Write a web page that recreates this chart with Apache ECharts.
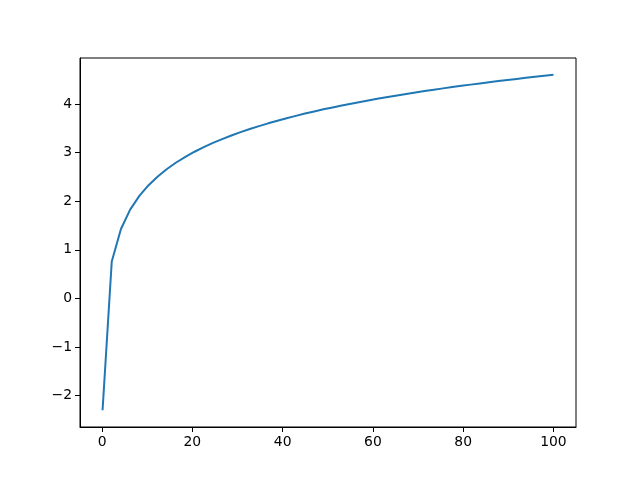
<!DOCTYPE html>
<html>
<head>
<meta charset="utf-8">
<script src="https://cdn.jsdelivr.net/npm/echarts@6/dist/echarts.min.js"></script>
<style>html,body{margin:0;padding:0;background:#fff}#c{width:640px;height:480px}</style>
</head>
<body>
<div id="c"></div>
<script>
var xValues = [0.1, 2.139, 4.178, 6.216, 8.255, 10.294, 12.333, 14.371, 16.41, 18.449,
  20.488, 22.527, 24.565, 26.604, 28.643, 30.682, 32.72, 34.759, 36.798, 38.837,
  40.876, 42.914, 44.953, 46.992, 49.031, 51.069, 53.108, 55.147, 57.186, 59.224,
  61.263, 63.302, 65.341, 67.38, 69.418, 71.457, 73.496, 75.535, 77.573, 79.612,
  81.651, 83.69, 85.729, 87.767, 89.806, 91.845, 93.884, 95.922, 97.961, 100.0];
var yValues = [-2.303, 0.76, 1.43, 1.827, 2.111, 2.332, 2.512, 2.665, 2.798, 2.915,
  3.02, 3.115, 3.201, 3.281, 3.355, 3.424, 3.488, 3.548, 3.605, 3.659,
  3.711, 3.759, 3.806, 3.85, 3.893, 3.933, 3.972, 4.01, 4.046, 4.081,
  4.115, 4.148, 4.18, 4.21, 4.24, 4.269, 4.297, 4.325, 4.351, 4.377,
  4.402, 4.427, 4.451, 4.475, 4.498, 4.52, 4.542, 4.564, 4.585, 4.605];
var xTicks = [0, 20, 40, 60, 80, 100];
var yTicks = [-2, -1, 0, 1, 2, 3, 4];

var pts = xValues.map(function (x, i) { return [x, yValues[i]]; });
var xr = xValues[xValues.length - 1] - xValues[0];
var yMin = Math.min.apply(null, yValues), yMax = Math.max.apply(null, yValues);
var yr = yMax - yMin;
function fmt(v) { return String(v).replace('-', '\u2212'); }
var labelStyle = { color: '#000', fontFamily: 'DejaVu Sans', fontSize: 13.9 };

var chart = echarts.init(document.getElementById('c'), null, { renderer: 'canvas' });
chart.setOption({
  animation: false,
  backgroundColor: '#fff',
  grid: { left: 80, right: 64, top: 58, bottom: 53, show: true, borderColor: '#000', borderWidth: 1, backgroundColor: 'transparent', containLabel: false },
  xAxis: {
    type: 'value',
    min: xValues[0] - 0.05 * xr,
    max: xValues[xValues.length - 1] + 0.05 * xr,
    splitLine: { show: false },
    axisLine: { show: true, onZero: false, lineStyle: { color: '#000', width: 1 } },
    axisTick: { show: true, length: 5, lineStyle: { color: '#000', width: 1 }, customValues: xTicks },
    axisLabel: Object.assign({ margin: 8, formatter: fmt, customValues: xTicks }, labelStyle)
  },
  yAxis: {
    type: 'value',
    min: yMin - 0.05 * yr,
    max: yMax + 0.05 * yr,
    splitLine: { show: false },
    axisLine: { show: true, onZero: false, lineStyle: { color: '#000', width: 1 } },
    axisTick: { show: true, length: 5, lineStyle: { color: '#000', width: 1 }, customValues: yTicks },
    axisLabel: Object.assign({ margin: 8, formatter: fmt, customValues: yTicks }, labelStyle)
  },
  series: [{
    type: 'line',
    data: pts,
    showSymbol: false,
    symbol: 'none',
    lineStyle: { color: '#1f77b4', width: 2 },
    itemStyle: { color: '#1f77b4' }
  }]
});
</script>
</body>
</html>
